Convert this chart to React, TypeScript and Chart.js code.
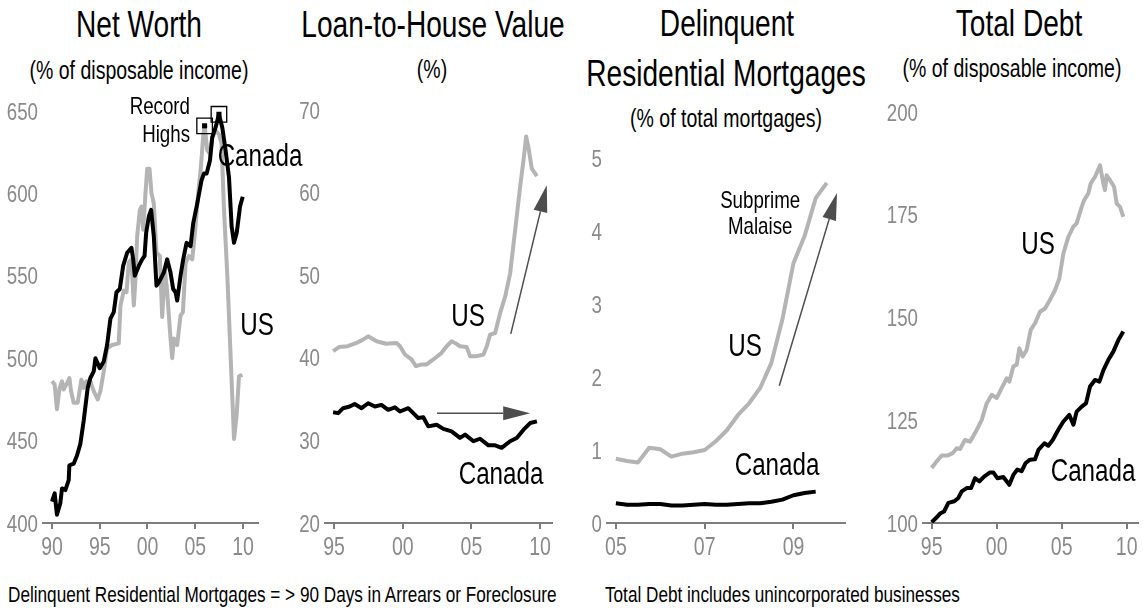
import React, { useEffect, useRef } from "react";
import { Chart, registerables } from "chart.js";

Chart.register(...registerables);

const FONT = '"Liberation Sans", Arial, sans-serif';
const SQUEEZE = 0.78; // horizontal squeeze to mimic a condensed face
const GRAY_LINE = "#b4b4b4";
const TICK_GRAY = "#8a8a8a";
const AXIS_GRAY = "#7d7d7d";
const ARROW_COLOR = "#4d4d4d";

// ---------- Panel 1: Net Worth (% of disposable income) ----------
const nwCanadaYears = [1990.0, 1990.28, 1990.52, 1990.87, 1991.05, 1991.4, 1991.75, 1991.82, 1992.27, 1992.62, 1992.97, 1993.32, 1993.74, 1994.02, 1994.37, 1994.55, 1995.0, 1995.42, 1995.77, 1996.12, 1996.47, 1996.75, 1997.1, 1997.45, 1997.87, 1998.32, 1998.5, 1998.67, 1999.09, 1999.44, 1999.69, 1999.86, 2000.14, 2000.38, 2000.66, 2000.94, 2001.19, 2001.71, 2002.06, 2002.41, 2002.69, 2002.94, 2003.11, 2003.46, 2003.74, 2004.09, 2004.51, 2004.79, 2005.21, 2005.66, 2005.91, 2006.19, 2006.54, 2006.78, 2007.13, 2007.48, 2007.83, 2008.18, 2008.53, 2008.81, 2009.06, 2009.34, 2009.69, 2009.97];
const nwCanada = [413, 418, 405, 412, 421, 420, 426, 435, 436, 441, 448, 462, 482, 488, 492, 500, 494, 498, 508, 524, 528, 540, 542, 556, 564, 567, 560, 550, 556, 560, 562, 576, 586, 590, 574, 544, 546, 552, 560, 552, 542, 540, 535, 550, 560, 570, 568, 582, 594, 608, 612, 612, 620, 634, 640, 648, 640, 626, 610, 580, 570, 576, 592, 598];
const nwUSYears = [1990.0, 1990.28, 1990.52, 1990.8, 1991.05, 1991.22, 1991.5, 1991.82, 1992.0, 1992.27, 1992.69, 1993.08, 1993.32, 1993.6, 1994.02, 1994.37, 1994.79, 1995.07, 1995.42, 1995.77, 1996.29, 1996.99, 1997.17, 1997.52, 1997.8, 1998.04, 1998.32, 1998.57, 1998.74, 1998.92, 1999.2, 1999.37, 1999.55, 1999.79, 1999.97, 2000.21, 2000.42, 2000.66, 2000.94, 2001.29, 2001.54, 2001.82, 2002.06, 2002.41, 2002.59, 2002.76, 2003.11, 2003.46, 2003.71, 2003.99, 2004.34, 2004.69, 2005.03, 2005.31, 2005.56, 2005.84, 2005.98, 2006.26, 2006.54, 2006.78, 2007.13, 2007.48, 2007.76, 2008.01, 2008.36, 2008.71, 2009.06, 2009.34, 2009.58, 2009.93];
const nwUS = [486, 484, 469, 482, 486, 481, 484, 488, 480, 473, 473, 487, 482, 486, 486, 480, 475, 480, 492, 506, 508, 509, 532, 541, 540, 558, 560, 532, 548, 574, 590, 592, 578, 600, 615, 615, 600, 594, 564, 562, 525, 554, 540, 512, 500, 512, 508, 526, 528, 558, 562, 560, 580, 600, 614, 635, 641, 626, 624, 634, 638, 636, 630, 590, 550, 500, 451, 466, 489, 490];
const nwXTicks = [1990, 1995, 2000, 2005, 2010];
const nwYTicks = [400, 450, 500, 550, 600, 650];

// ---------- Panel 2: Loan-to-House Value (%) ----------
const ltvUSYears = [1994.93, 1995.36, 1996.0, 1996.63, 1997.1, 1997.48, 1998.1, 1998.8, 1999.55, 1999.8, 2000.16, 2000.64, 2000.96, 2001.37, 2001.74, 2002.23, 2002.83, 2003.2, 2003.56, 2003.8, 2004.17, 2004.66, 2004.9, 2005.39, 2005.88, 2006.12, 2006.36, 2006.73, 2007.09, 2007.46, 2007.82, 2008.19, 2008.55, 2008.8, 2008.99, 2009.16, 2009.4, 2009.77];
const ltvUS = [40.8, 41.3, 41.4, 41.8, 42.2, 42.6, 42.0, 41.7, 41.8, 41.4, 40.4, 39.8, 39.0, 39.2, 39.2, 39.8, 40.6, 41.4, 42.0, 41.8, 41.4, 41.3, 40.2, 40.2, 40.4, 41.4, 42.8, 43.0, 45.4, 47.4, 50.2, 55.5, 60.7, 64.0, 66.8, 65.4, 62.9, 62.0];
const ltvCanadaYears = [1994.93, 1995.3, 1995.66, 1996.14, 1996.5, 1997.0, 1997.48, 1997.97, 1998.45, 1998.94, 1999.43, 1999.8, 2000.4, 2000.77, 2001.13, 2001.5, 2001.86, 2002.47, 2002.96, 2003.56, 2004.17, 2004.54, 2005.15, 2005.63, 2006.24, 2006.73, 2007.2, 2007.82, 2008.3, 2008.8, 2009.28, 2009.77];
const ltvCanada = [33.4, 33.3, 33.9, 34.1, 34.4, 33.9, 34.5, 34.1, 34.3, 33.7, 34.0, 33.5, 33.9, 33.3, 32.7, 32.8, 31.7, 31.9, 31.4, 31.1, 30.3, 30.7, 29.9, 30.2, 29.4, 29.4, 29.1, 29.9, 30.3, 31.3, 32.1, 32.3];
const ltvXTicks = [1995, 2000, 2005, 2010];
const ltvYTicks = [20, 30, 40, 50, 60, 70];

// ---------- Panel 3: Delinquent Residential Mortgages (% of total mortgages) ----------
const dqQuarters = [2005.0, 2005.25, 2005.5, 2005.75, 2006.0, 2006.25, 2006.5, 2006.75, 2007.0, 2007.25, 2007.5, 2007.75, 2008.0, 2008.25, 2008.5, 2008.75, 2009.0, 2009.25, 2009.5, 2009.75];
const dqUS = [0.88, 0.85, 0.83, 1.03, 1.01, 0.91, 0.95, 0.97, 1.0, 1.12, 1.27, 1.48, 1.64, 1.85, 2.19, 2.79, 3.56, 3.93, 4.45, 4.66];
const dqCanada = [0.27, 0.25, 0.25, 0.26, 0.26, 0.24, 0.24, 0.25, 0.26, 0.25, 0.25, 0.26, 0.27, 0.27, 0.29, 0.32, 0.38, 0.41, 0.43];
const dqXTicks = [2005, 2007, 2009];
const dqYTicks = [0, 1, 2, 3, 4, 5];

// ---------- Panel 4: Total Debt (% of disposable income) ----------
const tdUSYears = [1995.0, 1995.38, 1995.77, 1996.2, 1996.62, 1996.92, 1997.18, 1997.56, 1997.95, 1998.41, 1998.85, 1999.23, 1999.62, 2000.0, 2000.38, 2000.77, 2000.97, 2001.28, 2001.54, 2001.74, 2002.0, 2002.3, 2002.62, 2002.95, 2003.33, 2003.72, 2004.1, 2004.49, 2004.82, 2005.13, 2005.51, 2005.9, 2006.15, 2006.54, 2006.72, 2007.05, 2007.23, 2007.56, 2007.95, 2008.2, 2008.33, 2008.46, 2008.72, 2009.03, 2009.23, 2009.49, 2009.74];
const tdUS = [113.4, 115.0, 116.4, 116.4, 117.0, 118.2, 118.0, 120.2, 119.8, 122.3, 125.1, 129.1, 131.2, 130.4, 132.8, 135.2, 134.4, 138.1, 138.5, 142.5, 140.5, 142.1, 147.0, 148.6, 151.4, 152.2, 154.3, 156.7, 159.5, 165.6, 169.6, 172.1, 172.9, 176.9, 178.5, 180.2, 182.6, 184.2, 187.0, 182.6, 181.0, 184.6, 183.4, 181.8, 177.7, 176.9, 174.5];
const tdCanadaYears = [1995.0, 1995.33, 1995.64, 1995.95, 1996.28, 1996.74, 1997.05, 1997.31, 1997.69, 1998.03, 1998.33, 1998.67, 1999.03, 1999.49, 1999.74, 2000.05, 2000.51, 2000.97, 2001.28, 2001.59, 2001.92, 2002.23, 2002.56, 2002.95, 2003.21, 2003.67, 2003.97, 2004.31, 2004.74, 2005.13, 2005.59, 2005.9, 2006.15, 2006.54, 2006.87, 2007.18, 2007.56, 2007.9, 2008.21, 2008.59, 2008.97, 2009.36, 2009.74];
const tdCanada = [100.2, 101.2, 102.3, 102.8, 104.9, 105.3, 106.1, 107.7, 108.5, 108.5, 110.9, 110.1, 111.3, 112.3, 112.3, 110.9, 111.2, 109.3, 111.7, 113.0, 112.6, 114.6, 115.4, 115.5, 117.8, 119.4, 118.8, 120.2, 122.7, 124.7, 126.3, 123.9, 127.1, 128.3, 129.1, 133.2, 134.8, 134.4, 137.2, 139.7, 141.7, 144.5, 146.6];
const tdXTicks = [1995, 2000, 2005, 2010];
const tdYTicks = [100, 125, 150, 175, 200];

// ---------- helpers ----------
type Label = { text: string; x: number; y: number; size: number; align?: CanvasTextAlign };
type Arrow = { x1: number; y1: number; x2: number; y2: number };

const zip = (xs: number[], ys: number[]) => ys.map((v, i) => ({ x: xs[i], y: v }));
const argMaxPoint = (xs: number[], ys: number[]) => {
  let k = 0;
  ys.forEach((v, i) => { if (v > ys[k]) k = i; });
  return { x: xs[k], y: ys[k] };
};
const twoDigit = (v: number) => String(Math.round(v) % 100).padStart(2, "0");

function squeezedText(
  ctx: CanvasRenderingContext2D, text: string, x: number, y: number, size: number,
  align: CanvasTextAlign, baseline: CanvasTextBaseline, color: string,
) {
  ctx.save();
  ctx.translate(x, y);
  ctx.scale(SQUEEZE, 1);
  ctx.font = `${size}px ${FONT}`;
  ctx.textAlign = align;
  ctx.textBaseline = baseline;
  ctx.fillStyle = color;
  ctx.fillText(text, 0, 0);
  ctx.restore();
}

type Spec = {
  canvas: { left: number; top: number; width: number; height: number };
  area: { left: number; top: number; right: number; bottom: number };
  yAxisWidth: number;
  xMin: number; xMax: number; xTicks: number[];
  yMin: number; yMax: number; yTicks: number[];
  us: { x: number; y: number }[];
  canada: { x: number; y: number }[];
  markers?: { x: number; y: number }[];
  labels: Label[];
  arrows: Arrow[];
};

const panels: Spec[] = [
  {
    canvas: { left: 0, top: 90, width: 320, height: 480 },
    area: { left: 43, top: 111, right: 258, bottom: 523 },
    yAxisWidth: 43,
    xMin: 1989.06, xMax: 2011.57, xTicks: nwXTicks,
    yMin: 400, yMax: 650, yTicks: nwYTicks,
    us: zip(nwUSYears, nwUS),
    canada: zip(nwCanadaYears, nwCanada),
    markers: [argMaxPoint(nwUSYears, nwUS), argMaxPoint(nwCanadaYears, nwCanada)],
    labels: [
      { text: "Canada", x: 2011.78, y: 622, size: 31 },
      { text: "US", x: 2011.47, y: 519, size: 31 },
      { text: "Record", x: 2004.45, y: 652, size: 24, align: "right" },
      { text: "Highs", x: 2004.45, y: 635.5, size: 24, align: "right" },
    ],
    arrows: [],
  },
  {
    canvas: { left: 290, top: 90, width: 300, height: 480 },
    area: { left: 325, top: 110, right: 552, bottom: 523 },
    yAxisWidth: 35,
    xMin: 1994.34, xMax: 2010.87, xTicks: ltvXTicks,
    yMin: 20, yMax: 70, yTicks: ltvYTicks,
    us: zip(ltvUSYears, ltvUS),
    canada: zip(ltvCanadaYears, ltvCanada),
    labels: [
      { text: "US", x: 2004.76, y: 44.9, size: 31 },
      { text: "Canada", x: 2007.16, y: 25.8, size: 31 },
    ],
    arrows: [
      { x1: 2002.5, y1: 33.3, x2: 2009.28, y2: 33.3 },
      { x1: 2007.87, y1: 42.9, x2: 2010.49, y2: 60.9 },
    ],
  },
  {
    canvas: { left: 575, top: 90, width: 295, height: 480 },
    area: { left: 607, top: 158, right: 845, bottom: 523 },
    yAxisWidth: 32,
    xMin: 2004.8, xMax: 2010.16, xTicks: dqXTicks,
    yMin: 0, yMax: 5, yTicks: dqYTicks,
    us: zip(dqQuarters, dqUS),
    canada: zip(dqQuarters, dqCanada),
    labels: [
      { text: "US", x: 2007.91, y: 2.41, size: 31 },
      { text: "Canada", x: 2008.63, y: 0.77, size: 31 },
      { text: "Subprime", x: 2008.25, y: 4.4, size: 24 },
      { text: "Malaise", x: 2008.25, y: 4.05, size: 24 },
    ],
    arrows: [{ x1: 2008.68, y1: 1.88, x2: 2009.98, y2: 4.52 }],
  },
  {
    canvas: { left: 860, top: 90, width: 283, height: 480 },
    area: { left: 923, top: 112, right: 1138, bottom: 523 },
    yAxisWidth: 63,
    xMin: 1994.33, xMax: 2010.87, xTicks: tdXTicks,
    yMin: 100, yMax: 200, yTicks: tdYTicks,
    us: zip(tdUSYears, tdUS),
    canada: zip(tdCanadaYears, tdCanada),
    labels: [
      { text: "US", x: 2003.18, y: 167.6, size: 31 },
      { text: "Canada", x: 2007.41, y: 112.4, size: 31 },
    ],
    arrows: [],
  },
];

const X_TICK_SIZE = 25;
const Y_TICK_SIZE = 24;

const annotationPlugin = (spec: Spec) => ({
  id: "panelAnnotations",
  afterDraw(chart: any) {
    const { ctx, chartArea } = chart;
    const xs = chart.scales.x;
    const ys = chart.scales.y;
    ctx.save();
    // tick labels (squeezed to look condensed)
    for (const v of spec.xTicks) {
      squeezedText(ctx, twoDigit(v), xs.getPixelForValue(v), chartArea.bottom + 32, X_TICK_SIZE, "center", "alphabetic", TICK_GRAY);
    }
    for (const v of spec.yTicks) {
      squeezedText(ctx, String(v), chartArea.left - 5, ys.getPixelForValue(v) + 0.358 * Y_TICK_SIZE, Y_TICK_SIZE, "right", "alphabetic", TICK_GRAY);
    }
    // arrows
    for (const a of spec.arrows) {
      const x1 = xs.getPixelForValue(a.x1), y1 = ys.getPixelForValue(a.y1);
      const x2 = xs.getPixelForValue(a.x2), y2 = ys.getPixelForValue(a.y2);
      const ang = Math.atan2(y2 - y1, x2 - x1);
      const hl = 27, hw = 7;
      const bx = x2 - hl * Math.cos(ang), by = y2 - hl * Math.sin(ang);
      ctx.strokeStyle = ARROW_COLOR;
      ctx.lineWidth = 1.5;
      ctx.beginPath();
      ctx.moveTo(x1, y1);
      ctx.lineTo(bx, by);
      ctx.stroke();
      ctx.fillStyle = ARROW_COLOR;
      ctx.beginPath();
      ctx.moveTo(x2, y2);
      ctx.lineTo(bx + hw * Math.sin(ang), by - hw * Math.cos(ang));
      ctx.lineTo(bx - hw * Math.sin(ang), by + hw * Math.cos(ang));
      ctx.closePath();
      ctx.fill();
    }
    // text annotations
    for (const l of spec.labels) {
      squeezedText(ctx, l.text, xs.getPixelForValue(l.x), ys.getPixelForValue(l.y), l.size, l.align || "center", "middle", "#000");
    }
    ctx.restore();
  },
});

function makeChart(canvas: HTMLCanvasElement, spec: Spec) {
  const c = spec.canvas, a = spec.area;
  const datasets: any[] = [
    { data: spec.us, borderColor: GRAY_LINE, borderWidth: 4, pointRadius: 0, tension: 0, order: 3, borderJoinStyle: "round" },
    { data: spec.canada, borderColor: "#000", borderWidth: 4, pointRadius: 0, tension: 0, order: 2, borderJoinStyle: "round" },
  ];
  if (spec.markers) {
    datasets.push({
      data: spec.markers, showLine: false, pointStyle: "rect", pointRadius: 11, clip: false,
      pointBorderColor: "#000", pointBorderWidth: 1.3, pointBackgroundColor: "rgba(0,0,0,0)", order: 1,
    });
    datasets.push({
      data: spec.markers, showLine: false, pointStyle: "rect", pointRadius: 3.6, clip: false,
      pointBorderColor: "#000", pointBorderWidth: 0, pointBackgroundColor: "#000", order: 0,
    });
  }
  return new Chart(canvas, {
    type: "line",
    data: { datasets },
    options: {
      animation: false,
      responsive: false,
      maintainAspectRatio: false,
      events: [],
      layout: {
        padding: {
          left: a.left - c.left - spec.yAxisWidth,
          right: c.left + c.width - a.right,
          top: a.top - c.top,
          bottom: 0,
        },
      },
      plugins: { legend: { display: false }, tooltip: { enabled: false }, title: { display: false } },
      scales: {
        x: {
          type: "linear",
          min: spec.xMin,
          max: spec.xMax,
          afterBuildTicks: (s: any) => { s.ticks = spec.xTicks.map((v) => ({ value: v })); },
          afterFit: (s: any) => { s.height = c.top + c.height - a.bottom; },
          ticks: { display: false },
          grid: { drawOnChartArea: false, drawTicks: true, tickLength: 6, color: AXIS_GRAY, lineWidth: 2 },
          border: { display: true, color: AXIS_GRAY, width: 2 },
        },
        y: {
          type: "linear",
          min: spec.yMin,
          max: spec.yMax,
          afterBuildTicks: (s: any) => { s.ticks = spec.yTicks.map((v) => ({ value: v })); },
          afterFit: (s: any) => { s.width = spec.yAxisWidth; },
          ticks: { display: false },
          grid: { display: false, drawTicks: false },
          border: { display: false },
        },
      },
    } as any,
    plugins: [annotationPlugin(spec)],
  });
}

function Panel({ spec }: { spec: Spec }) {
  const ref = useRef<HTMLCanvasElement | null>(null);
  useEffect(() => {
    if (!ref.current) return;
    const chart = makeChart(ref.current, spec);
    return () => chart.destroy();
  }, [spec]);
  const c = spec.canvas;
  return (
    <canvas
      ref={ref}
      width={c.width}
      height={c.height}
      style={{ position: "absolute", left: c.left, top: c.top, width: c.width, height: c.height }}
    />
  );
}

type TextItem = { text: string; cx?: number; left?: number; baseline: number; size: number };
const texts: TextItem[] = [
  { text: "Net Worth", cx: 139, baseline: 37, size: 36 },
  { text: "(% of disposable income)", cx: 139, baseline: 79, size: 25 },
  { text: "Loan-to-House Value", cx: 433, baseline: 37, size: 36 },
  { text: "(%)", cx: 432, baseline: 78, size: 25 },
  { text: "Delinquent", cx: 727, baseline: 36, size: 36 },
  { text: "Residential Mortgages", cx: 726, baseline: 86, size: 36 },
  { text: "(% of total mortgages)", cx: 726, baseline: 127, size: 25 },
  { text: "Total Debt", cx: 1019, baseline: 36, size: 36 },
  { text: "(% of disposable income)", cx: 1012, baseline: 77, size: 25 },
  { text: "Delinquent Residential Mortgages = > 90 Days in Arrears or Foreclosure", left: 8, baseline: 603, size: 22 },
  { text: "Total Debt includes unincorporated businesses", left: 605, baseline: 603, size: 22 },
];

export default function App() {
  return (
    <div style={{ position: "absolute", left: 0, top: 0, width: 1143, height: 612, background: "#fff", overflow: "hidden" }}>
      {texts.map((t, i) => {
        const top = t.baseline - 0.8465 * t.size;
        const style: React.CSSProperties = {
          position: "absolute", top, fontFamily: FONT, fontSize: t.size, lineHeight: `${t.size}px`,
          color: "#000", whiteSpace: "nowrap", transform: `scaleX(${SQUEEZE})`,
        };
        if (t.cx !== undefined) {
          style.left = t.cx - 250;
          style.width = 500;
          style.textAlign = "center";
          style.transformOrigin = "50% 50%";
        } else {
          style.left = t.left;
          style.transformOrigin = "0 50%";
        }
        return <div key={i} style={style}>{t.text}</div>;
      })}
      {panels.map((p, i) => <Panel key={i} spec={p} />)}
    </div>
  );
}
